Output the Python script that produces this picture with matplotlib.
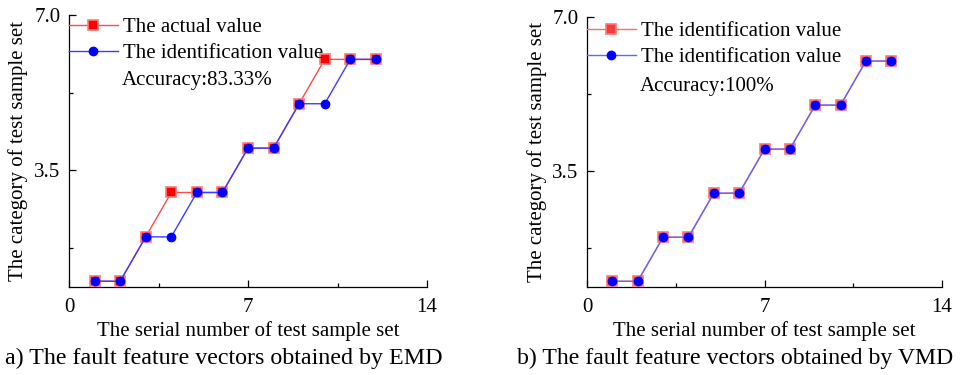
import matplotlib
matplotlib.use("Agg")
import matplotlib.pyplot as plt
from matplotlib.ticker import FixedLocator

plt.rcParams['font.family'] = ['Liberation Serif', 'DejaVu Serif']
plt.rcParams['mathtext.fontset'] = 'stix'

samples = [1, 2, 3, 4, 5, 6, 7, 8, 9, 10, 11, 12]
emd_actual = [1, 1, 2, 3, 3, 3, 4, 4, 5, 6, 6, 6]
emd_ident = [1, 1, 2, 2, 3, 3, 4, 4, 5, 5, 6, 6]
vmd_actual = [1, 1, 2, 2, 3, 3, 4, 4, 5, 5, 6, 6]
vmd_ident = [1, 1, 2, 2, 3, 3, 4, 4, 5, 5, 6, 6]

labels_a = ["The actual value", "The identification value"]
labels_b = ["The identification value", "The identification value"]
acc_a = "Accuracy:83.33%"
acc_b = "Accuracy:100%"
xlabel = "The serial number of test sample set"
ylabel = "The category of test sample set"
cap_a = "a) The fault feature vectors obtained by EMD"
cap_b = "b) The fault feature vectors obtained by VMD"

W, H = 960, 375
fig = plt.figure(figsize=(W / 100, H / 100), dpi=100)

FS = 15

def make_ax(l, r, t, b, actual, ident, labels, acc, leg_y, acc_y, ylab_x, acc_x,
            red_line, blue_line, red_fill):
    ax = fig.add_axes([l / W, 1 - b / H, (r - l) / W, (b - t) / H])
    ax.plot(samples, actual, color=red_line, lw=1.0, marker='s', ms=7,
            mfc=red_fill, mec='#ff7878', mew=1.2, label=labels[0], zorder=3)
    ax.plot(samples, ident, color=blue_line, lw=1.0, marker='o', ms=6,
            mfc='#0000ff', mec='#0000ff', label=labels[1], zorder=4)
    ax.set_xlim(0, 14)
    ax.set_ylim(0.87, 7.0)
    ax.xaxis.set_major_locator(FixedLocator([0, 7, 14]))
    ax.xaxis.set_minor_locator(FixedLocator([3.5, 10.5]))
    ax.yaxis.set_major_locator(FixedLocator([3.5, 7.0]))
    ax.yaxis.set_minor_locator(FixedLocator([1.75, 5.25]))
    ax.set_yticklabels(["3.5", "7.0"])
    for s in ['top', 'right']:
        ax.spines[s].set_visible(False)
    for s in ['left', 'bottom']:
        ax.spines[s].set_linewidth(0.9)
    ax.tick_params(which='major', direction='in', length=5, width=0.9,
                   labelsize=FS, pad=6)
    ax.tick_params(axis='x', which='major', pad=8)
    ax.tick_params(which='minor', direction='in', length=3, width=0.9)
    ax.set_xlabel(xlabel, fontsize=FS, labelpad=3)
    ax.legend(loc='upper left', bbox_to_anchor=(0, leg_y), frameon=False,
              fontsize=FS, handlelength=2.35, handletextpad=0.25,
              borderaxespad=0, borderpad=0, labelspacing=0.3)
    ax.text(acc_x, acc_y, acc, transform=ax.transAxes, fontsize=FS,
            ha='left', va='center')
    fig.text(ylab_x / W, 1 - ((t + b) / 2) / H, ylabel, rotation=90,
             fontsize=FS, ha='center', va='center')
    return ax

make_ax(69, 427, 15, 287, emd_actual, emd_ident, labels_a, acc_a,
        0.99, 1 - (80 - 15) / 272, 18, (122 - 69) / (427 - 69),
        '#ff4848', '#3c3cff', '#ff0000')
make_ax(587, 942, 17, 287, vmd_actual, vmd_ident, labels_b, acc_b,
        0.982, 1 - (86 - 17) / 270, 537, (640 - 587) / (942 - 587),
        '#ff6a6a', '#6464ff', '#f43c3c')

fig.text(5 / W, 1 - 358 / H, cap_a, fontsize=17.3, ha='left', va='center')
fig.text(517 / W, 1 - 358 / H, cap_b, fontsize=17.1, ha='left', va='center')

fig.savefig("out.png", dpi=100)
